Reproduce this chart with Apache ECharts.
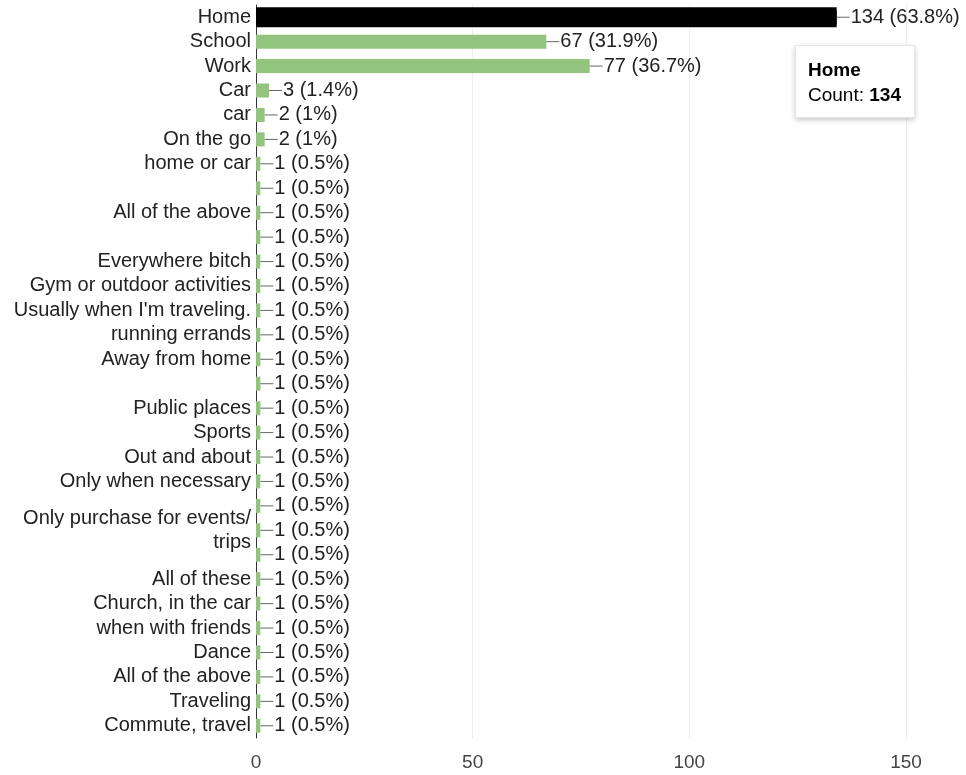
<!DOCTYPE html>
<html>
<head>
<meta charset="utf-8">
<script src="https://cdn.jsdelivr.net/npm/echarts@6/dist/echarts.min.js"></script>
<style>
  html, body { margin: 0; padding: 0; background: #fff; }
  #chart { width: 966px; height: 775px; }
</style>
</head>
<body>
<div id="chart"></div>
<script>
// answers as listed on the chart, top to bottom (blank answers kept as empty strings)
const categories = [
  'Home', 'School', 'Work', 'Car', 'car', 'On the go', 'home or car', '',
  'All of the above', '', 'Everywhere bitch', 'Gym or outdoor activities',
  "Usually when I'm traveling.", 'running errands', 'Away from home', '',
  'Public places', 'Sports', 'Out and about', 'Only when necessary', '',
  'Only purchase for events/\ntrips', '', 'All of these', 'Church, in the car',
  'when with friends', 'Dance', 'All of the above', 'Traveling', 'Commute, travel'
];
const counts = [
  134, 67, 77, 3, 2, 2, 1, 1,
  1, 1, 1, 1,
  1, 1, 1, 1,
  1, 1, 1, 1, 1,
  1, 1, 1, 1,
  1, 1, 1, 1, 1
];
const percents = [
  '63.8%', '31.9%', '36.7%', '1.4%', '1%', '1%', '0.5%', '0.5%',
  '0.5%', '0.5%', '0.5%', '0.5%',
  '0.5%', '0.5%', '0.5%', '0.5%',
  '0.5%', '0.5%', '0.5%', '0.5%', '0.5%',
  '0.5%', '0.5%', '0.5%', '0.5%',
  '0.5%', '0.5%', '0.5%', '0.5%', '0.5%'
];
const xTicks = [0, 50, 100, 150];
const hovered = 0; // Home is the hovered bar

const font = 'Arial, "Liberation Sans", sans-serif';
const green = '#93c47d';

const mychart = echarts.init(document.getElementById('chart'));

const barData = counts.map((v, i) => i === hovered ? { value: v, itemStyle: { color: '#000' } } : v);
// thicker black outline for the hovered bar, drawn on a hidden twin axis
const hoverData = counts.map((v, i) => i === hovered ? v : '-');

const option = {
  animation: false,
  textStyle: { fontFamily: font },
  grid: { left: 256, right: 60, top: 5, bottom: 37, containLabel: false, outerBoundsMode: 'none' },
  tooltip: {
    trigger: 'item',
    alwaysShowContent: true,
    triggerOn: 'none',
    transitionDuration: 0,
    position: [795, 45],
    backgroundColor: '#fff',
    borderColor: '#e6e6e6',
    borderWidth: 1,
    padding: [11, 13, 10, 12],
    extraCssText: 'box-shadow: 0 2px 5px rgba(0,0,0,0.22); border-radius: 0;',
    textStyle: { fontFamily: font, fontSize: 19, color: '#000' },
    formatter: p => '<div style="line-height:25px"><b>' + categories[p.dataIndex] + '</b><br>Count: <b>' + counts[p.dataIndex] + '</b></div>'
  },
  xAxis: {
    type: 'value',
    min: xTicks[0],
    max: xTicks[xTicks.length - 1],
    interval: 50,
    axisLine: { show: false },
    axisTick: { show: false },
    splitLine: { lineStyle: { color: '#eeeeee', width: 1 } },
    axisLabel: { fontSize: 19, color: '#444', margin: 15, fontFamily: font }
  },
  yAxis: [{
    type: 'category',
    inverse: true,
    data: categories,
    axisLine: { show: true, lineStyle: { color: '#333', width: 1 } },
    axisTick: { show: false },
    axisLabel: {
      interval: 0,
      fontSize: 20,
      lineHeight: 24,
      color: '#222',
      margin: 5,
      fontFamily: font
    }
  }, {
    type: 'category',
    inverse: true,
    data: categories,
    show: false
  }],
  series: [{
    type: 'bar',
    data: barData,
    barWidth: 14,
    itemStyle: { color: green },
    label: {
      show: true,
      position: 'right',
      distance: 0,
      formatter: p => '{ln|}{v|' + p.value + ' (' + percents[p.dataIndex] + ')}',
      rich: {
        ln: { width: 13, height: 1, backgroundColor: '#666' },
        v: { fontSize: 20, color: '#222', fontFamily: font, padding: [0, 0, 0, 1] }
      }
    }
  }, {
    type: 'bar',
    yAxisIndex: 1,
    data: hoverData,
    barWidth: 20,
    silent: true,
    z: 1,
    itemStyle: { color: '#000' }
  }]
};

mychart.setOption(option);
mychart.dispatchAction({ type: 'showTip', seriesIndex: 0, dataIndex: hovered });
</script>
</body>
</html>
